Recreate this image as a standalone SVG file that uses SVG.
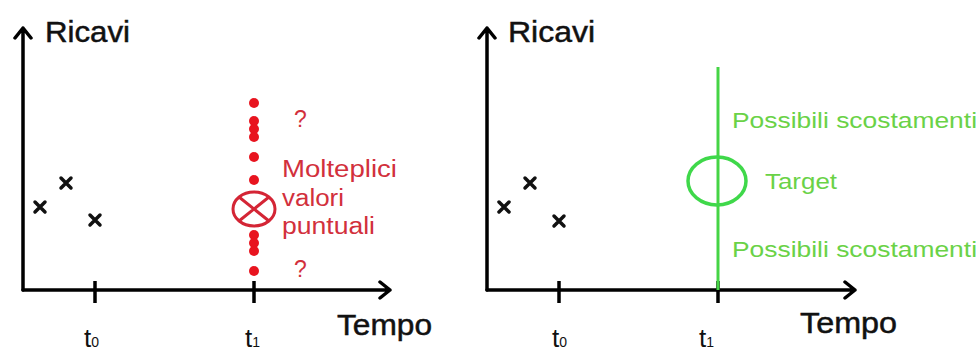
<svg xmlns="http://www.w3.org/2000/svg" width="980" height="354" viewBox="0 0 980 354">
<style>
.ax{stroke:#000;stroke-width:3.5;fill:none;stroke-linecap:round;stroke-linejoin:round}
.tick{stroke:#000;stroke-width:3.5}
.cross{stroke:#111;stroke-width:3.5;stroke-linecap:round}
.lbl{font-family:"Liberation Sans",Arial,sans-serif;fill:#111}
.big{font-size:30px;stroke:#111;stroke-width:0.5}
.t{font-size:26px}
.sub{font-size:14px}
.red{font-family:"Liberation Sans",Arial,sans-serif;fill:#d2303c;font-size:23px}
.dot{fill:#e8141f}
.grn{font-family:"Liberation Sans",Arial,sans-serif;fill:#6ad247;font-size:22px}
</style>
<rect width="980" height="354" fill="#fff"/>
<g id="connectors">
  <g id="left-axes">
    <path class="ax" d="M23,290 V28 M15,38 L23,28 L31,38"/>
    <path class="ax" d="M23,290 H390 M380,282 L390,290 L380,298"/>
    <line class="tick" x1="95" y1="281" x2="95" y2="303"/>
    <line class="tick" x1="254" y1="281" x2="254" y2="303"/>
  </g>
  <g id="right-axes">
    <path class="ax" d="M487,290 V28 M479,38 L487,28 L495,38"/>
    <path class="ax" d="M487,290 H855 M845,282 L855,290 L845,298"/>
    <line class="tick" x1="559" y1="281" x2="559" y2="303"/>
    <line class="tick" x1="718" y1="281" x2="718" y2="303"/>
  </g>
</g>
<g id="left-labels">
  <text class="lbl big" x="45" y="42" textLength="85" lengthAdjust="spacingAndGlyphs">Ricavi</text>
  <text class="lbl big" x="337" y="335" textLength="95" lengthAdjust="spacingAndGlyphs">Tempo</text>
  <text class="lbl t" x="84" y="347">t<tspan class="sub">0</tspan></text>
  <text class="lbl t" x="245" y="347">t<tspan class="sub">1</tspan></text>
</g>
<g id="left-points">
  <path class="cross" d="M35,202 L45,212 M45,202 L35,212"/>
  <path class="cross" d="M61,178 L71,188 M71,178 L61,188"/>
  <path class="cross" d="M90,215 L100,225 M100,215 L90,225"/>
</g>
<g id="left-values">
  <circle class="dot" cx="254" cy="103" r="5"/>
  <circle class="dot" cx="254" cy="121" r="5"/>
  <circle class="dot" cx="254" cy="129" r="5"/>
  <circle class="dot" cx="254" cy="137" r="5"/>
  <circle class="dot" cx="254" cy="157" r="5"/>
  <circle class="dot" cx="254" cy="180" r="5"/>
  <circle class="dot" cx="254" cy="235" r="5"/>
  <circle class="dot" cx="254" cy="243" r="5"/>
  <circle class="dot" cx="254" cy="251" r="5"/>
  <circle class="dot" cx="254" cy="271" r="5"/>
  <g id="target-point" stroke="#d42535" stroke-width="3" fill="#fff">
    <ellipse cx="254" cy="209" rx="21" ry="17"/>
    <path d="M239,197 L269,221 M269,197 L239,221" fill="none"/>
  </g>
  <text class="red" x="294" y="127" font-size="20">?</text>
  <text class="red" x="294" y="277" font-size="20">?</text>
  <text class="red" x="282" y="177" textLength="115" lengthAdjust="spacingAndGlyphs">Molteplici</text>
  <text class="red" x="282" y="206" textLength="62" lengthAdjust="spacingAndGlyphs">valori</text>
  <text class="red" x="282" y="234" textLength="93" lengthAdjust="spacingAndGlyphs">puntuali</text>
</g>
<g id="right-labels">
  <text class="lbl big" x="508" y="42" textLength="87" lengthAdjust="spacingAndGlyphs">Ricavi</text>
  <text class="lbl big" x="800" y="333" textLength="97" lengthAdjust="spacingAndGlyphs">Tempo</text>
  <text class="lbl t" x="552" y="347">t<tspan class="sub">0</tspan></text>
  <text class="lbl t" x="699" y="347">t<tspan class="sub">1</tspan></text>
</g>
<g id="right-points">
  <path class="cross" d="M499,202 L509,212 M509,202 L499,212"/>
  <path class="cross" d="M525,178 L535,188 M535,178 L525,188"/>
  <path class="cross" d="M554,216 L564,226 M564,216 L554,226"/>
</g>
<g id="right-target">
  <line x1="718" y1="67" x2="718" y2="290" stroke="#45d445" stroke-width="3"/>
  <ellipse cx="717" cy="181" rx="29" ry="24" fill="none" stroke="#3fd84a" stroke-width="3.5"/>
  <text class="grn" x="732" y="128" textLength="245" lengthAdjust="spacingAndGlyphs">Possibili scostamenti</text>
  <text class="grn" x="765" y="189" textLength="72" lengthAdjust="spacingAndGlyphs">Target</text>
  <text class="grn" x="732" y="257" textLength="245" lengthAdjust="spacingAndGlyphs">Possibili scostamenti</text>
</g>
</svg>
